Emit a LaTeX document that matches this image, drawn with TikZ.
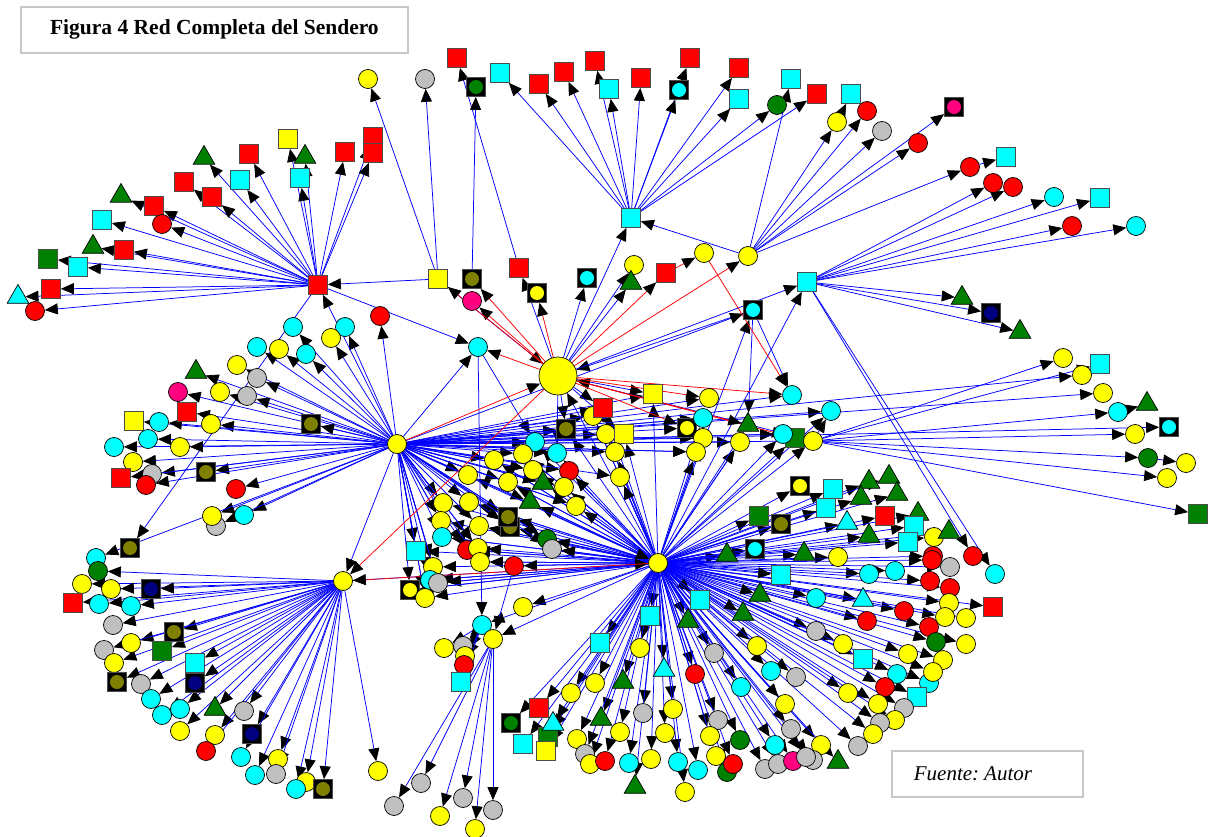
\documentclass[tikz,border=0pt]{standalone}
\usepackage{fontspec}
\setmainfont{Liberation Serif}
\usetikzlibrary{arrows.meta,shapes.geometric}

\definecolor{silver}{HTML}{C0C0C0}
\definecolor{dgreen}{HTML}{008000}
\definecolor{olivec}{HTML}{808000}
\definecolor{navyc}{HTML}{000080}
\definecolor{rosa}{HTML}{FF0080}
\definecolor{cyanc}{HTML}{00FFFF}
\definecolor{yellowc}{HTML}{FFFF00}
\definecolor{redc}{HTML}{FF0000}
\definecolor{bluec}{HTML}{0000FF}
\definecolor{framec}{HTML}{C8C8C8}

\pgfdeclarelayer{background}
\pgfsetlayers{background,main}

\tikzset{
  nd/.style = {draw = black, line width = .7pt, inner sep = 0pt},
  circ/.style = {nd, circle, minimum size = 19pt},
  sqr/.style = {nd, rectangle, draw = black!70, minimum size = 19pt},
  tri/.style = {nd, regular polygon, regular polygon sides = 3, minimum size = 25pt},
  boxd/.style = {sqr, fill = black,
    path picture = {\fill[#1] (path picture bounding box.center) circle (7pt);}},
  yc/.style = {circ, fill = yellowc},
  cc/.style = {circ, fill = cyanc},
  rc/.style = {circ, fill = redc},
  gc/.style = {circ, fill = silver},
  sc/.style = {circ, fill = dgreen},
  pc/.style = {circ, fill = rosa},
  ys/.style = {sqr, fill = yellowc},
  cs/.style = {sqr, fill = cyanc},
  rs/.style = {sqr, fill = redc},
  ss/.style = {sqr, fill = dgreen},
  gt/.style = {tri, fill = dgreen},
  ct/.style = {tri, fill = cyanc},
  bo/.style = {boxd = olivec},
  bn/.style = {boxd = navyc},
  bc/.style = {boxd = cyanc},
  bg/.style = {boxd = dgreen},
  bp/.style = {boxd = rosa},
  by/.style = {boxd = yellowc},
  link/.style = {draw = bluec, line width = .75pt,
    -{Triangle[length = 13pt, width = 11pt, color = black]}},
  rlink/.style = {link, draw = redc},
  frame/.style = {draw = framec, line width = 1.8pt, inner sep = 0pt}
}

% leaves: x/y/style, or x/y/style/source
\def\alist{288/139/ys, 305/157/gt, 249/154/rs, 204/158/gt,
  345/152/rs, 373/137/rs, 373/153/rs, 240/180/cs, 300/178/cs, 184/182/rs,
  212/197/rs, 154/206/rs, 162/224/rc, 121/196/gt, 102/220/cs, 93/247/gt,
  124/250/rs, 48/259/ss, 78/267/cs, 18/297/ct, 51/289/rs, 35/311/rc, 130/548/bo}
\def\blist{293/327/cc, 345/327/cc, 331/338/yc, 257/347/cc,
  279/349/yc, 306/354/cc, 237/365/yc, 196/372/gt, 257/378/gc, 178/392/pc,
  220/392/yc, 247/396/gc, 187/412/rs, 211/424/yc, 134/421/ys, 159/422/cc,
  148/439/cc, 114/447/cc, 180/447/yc, 133/462/yc, 311/424/bo, 206/472/bo,
  152/474/gc, 121/478/rs, 146/485/rc, 236/489/rc, 244/515/cc, 216/526/gc,
  212/516/yc, 96/558/cc}
\def\clist{98/571/sc, 82/584/yc, 111/589/yc, 151/589/bn,
  73/603/rs, 99/604/cc, 131/606/cc, 113/625/gc, 174/632/bo, 131/643/yc,
  104/650/gc, 162/651/ss, 114/663/yc, 195/663/cs, 117/682/bo, 141/684/gc,
  195/683/bn, 151/699/cc, 162/715/cc, 180/709/cc, 215/709/gt, 244/711/gc,
  180/731/yc, 215/735/yc, 206/751/rc, 252/734/bn, 241/757/cc, 278/759/yc,
  255/775/cc, 276/774/gc, 306/782/yc, 296/789/cc, 323/789/bo, 378/771/yc}
\def\dlist{727/555/gt, 755/549/bc, 804/554/gt, 838/557/yc,
  847/523/ct, 759/516/ss, 781/524/bo, 826/508/cs, 833/489/cs, 800/486/by,
  869/482/gt, 889/477/gt, 861/498/gt, 897/494/gt, 885/516/rs, 918/514/gt,
  914/526/cs, 869/536/gt, 908/542/cs, 934/537/yc, 949/532/gt, 933/556/rc,
  869/574/cc, 895/571/cc, 932/560/rc, 950/567/gc, 930/581/rc, 950/588/rc,
  993/607/rs, 816/598/cc, 863/600/ct, 904/611/rc, 949/603/yc, 945/617/yc,
  966/618/yc, 867/621/rc, 929/627/rc, 816/631/gc, 936/642/sc, 966/644/yc,
  843/644/yc, 863/659/cs, 908/654/yc, 943/660/yc, 929/683/cc, 933/672/yc,
  897/674/cc, 885/687/rc, 917/697/cs, 848/693/yc, 878/704/yc, 904/708/gc,
  895/720/yc, 880/723/gc, 873/734/yc, 858/746/gc, 821/745/yc, 813/760/gc,
  838/762/gt, 781/575/cs, 700/600/cs, 760/595/gt, 743/614/gt, 650/616/cs,
  688/621/gt, 600/643/cs, 640/648/yc, 757/646/yc, 714/653/gc, 664/670/ct,
  695/674/rc, 771/671/cc, 796/677/gc, 623/682/gt, 595/683/yc, 741/687/cc,
  571/693/yc, 539/708/rs, 511/723/bg, 548/737/ss, 553/724/ct, 523/744/cs,
  546/751/ys, 643/713/gc, 673/709/yc, 601/719/gt, 785/704/yc, 718/720/gc,
  791/729/gc, 577/739/yc, 585/754/gc, 590/764/yc, 605/761/rc, 620/732/yc,
  665/733/yc, 710/736/yc, 740/740/sc, 629/763/cc, 651/759/yc, 635/787/gt,
  678/762/cc, 698/770/cc, 685/792/yc, 716/756/yc, 727/772/sc, 733/764/rc,
  765/769/gc, 778/764/gc, 775/745/cc, 793/761/pc, 806/757/gc, 523/607/yc}
\def\mlist{535/442/cc/hI, 523/454/yc/hD, 557/453/cc/hub,
  494/460/yc/hD, 468/475/yc/hB, 508/482/yc/hD, 533/470/yc/hB, 569/471/rc/hD,
  543/483/gt/hB, 564/487/yc/hD, 576/506/yc/hB, 530/502/gt/hD, 443/503/yc/hB,
  469/502/yc/hD, 441/521/yc/hB, 479/526/yc/hD, 510/527/bo/hD, 508/517/bo/hB,
  442/537/cc/hD, 547/539/sc/hB, 552/549/gc/hD, 416/551/cs/hB, 467/550/rc/hD,
  478/548/yc/hB, 480/562/yc/hD, 433/567/yc/hB, 430/580/cc/hD, 438/583/gc/hD,
  410/590/by/hD, 425/598/yc/hB, 593/416/yc/hD, 603/408/rs/hub, 566/429/bo/hub,
  606/434/yc/hD, 624/434/ys/hub, 615/452/yc/hB, 620/477/yc/hD, 653/394/ys/hub,
  703/418/cc/hB, 703/438/yc/hD, 696/452/yc/hB, 740/442/yc/hD, 783/434/cc/hB,
  831/411/cc/hG}
\def\elist{500/73/cs, 539/84/rs, 564/72/rs, 595/61/rs,
  609/89/cs, 641/78/rs, 690/58/rs, 679/90/bc, 739/68/rs, 739/99/cs,
  777/105/sc, 817/94/rs}
\def\flist{791/79/cs, 837/122/yc, 867/111/rc, 882/131/gc,
  954/107/bp, 918/143/rc, 970/167/rc}
\def\hlist{962/298/gt, 991/313/bn, 1020/332/gt, 993/183/rc,
  1013/187/rc, 1054/197/cc, 1100/198/cs, 1072/226/rc, 1136/226/cc,
  973/556/rc, 995/574/cc}
\def\glist{1063/358/yc/hG, 1100/364/cs/hG, 1082/375/yc/hB,
  1103/393/yc/hB, 1118/412/cc/hG, 1169/427/bc/hB, 1135/434/yc/hG,
  1148/458/sc/hG, 1167/478/yc/hG, 1198/514/ss/hG}
\def\klist{444/648/yc, 463/646/gc, 465/656/yc, 464/665/rc, 461/682/cs}
\def\llist{421/783/gc, 440/816/yc, 463/798/gc, 475/829/yc, 493/810/gc, 394/806/gc}

\begin{document}
\begin{tikzpicture}[x = 1pt, y = -1pt]
  \useasboundingbox (0,0) rectangle (1210,837);

  % title and source boxes
  \node[frame, anchor = north west, minimum width = 387pt, minimum height = 46pt]
    (title) at (20,6) {\fontsize{21.5}{25}\selectfont\bfseries Figura 4 Red Completa del Sendero};
  \node[frame, anchor = north west, minimum height = 46pt, text width = 147pt,
    inner xsep = 22pt, align = left]
    (fuente) at (891,750) {\fontsize{21}{24}\selectfont\itshape Fuente: Autor};

  % named nodes near the centre
  \node[ss] (nW) at (795,438) {};
  \node[cc] (nQ) at (792,395) {};
  \node[gt] (nV) at (748,425) {};
  \node[yc] (nZ) at (709,398) {};
  \node[by] (nX) at (687,428) {};
  \node[bo] (nO) at (472,279) {};
  \node[pc] (nP) at (472,301) {};
  \node[rs] (nR) at (519,268) {};
  \node[by] (nY) at (537,293) {};
  \node[bc] (nC) at (587,278) {};
  \node[yc] (nU) at (634,265) {};
  \node[gt] (nG) at (631,283) {};
  \node[rs] (nS) at (666,273) {};
  \node[yc] (nT) at (704,253) {};
  \node[bc] (nB) at (753,310) {};
  \node[rc] (nK) at (380,316) {};
  \node[rc] (nM) at (514,566) {};
  \node[yc] (t1) at (368,79) {};
  \node[gc] (t2) at (425,79) {};
  \node[rs] (t3) at (457,58) {};
  \node[bg] (t4) at (476,87) {};

  % hubs
  \node[rs] (hA) at (318,285) {};
  \node[yc] (hB) at (397,444) {};
  \node[yc] (hC) at (343,581) {};
  \node[yc] (hD) at (658,563) {};
  \node[cs] (hE) at (631,218) {};
  \node[yc] (hF) at (748,256) {};
  \node[yc] (hG) at (813,441) {};
  \node[cs] (hH) at (807,282) {};
  \node[cc] (hI) at (478,347) {};
  \node[ys] (hJ) at (438,279) {};
  \node[cc] (hK) at (482,625) {};
  \node[yc] (hL) at (493,639) {};
  \node[yc, minimum size = 38pt] (hub) at (558,376) {};

  % draws the leaves
  \foreach \x/\y/\s [count = \i] in \alist \node[\s] (a\i) at (\x,\y) {};
  \foreach \x/\y/\s [count = \i] in \blist \node[\s] (b\i) at (\x,\y) {};
  \foreach \x/\y/\s [count = \i] in \clist \node[\s] (c\i) at (\x,\y) {};
  \foreach \x/\y/\s [count = \i] in \dlist \node[\s] (d\i) at (\x,\y) {};
  \foreach \x/\y/\s/\f [count = \i] in \mlist \node[\s] (m\i) at (\x,\y) {};
  \foreach \x/\y/\s [count = \i] in \elist \node[\s] (e\i) at (\x,\y) {};
  \foreach \x/\y/\s [count = \i] in \flist \node[\s] (f\i) at (\x,\y) {};
  \foreach \x/\y/\s [count = \i] in \hlist \node[\s] (h\i) at (\x,\y) {};
  \foreach \x/\y/\s/\f [count = \i] in \glist \node[\s] (g\i) at (\x,\y) {};
  \foreach \x/\y/\s [count = \i] in \klist \node[\s] (k\i) at (\x,\y) {};
  \foreach \x/\y/\s [count = \i] in \llist \node[\s] (l\i) at (\x,\y) {};
  \node[cs] (f8) at (851,94) {};
  \node[cs] (f9) at (1006,157) {};
  \node[gt] (g11) at (1147,404) {};
  \node[yc] (g12) at (1186,463) {};

  % draws the links
  \begin{pgfonlayer}{background}
    \fill[white] (0,0) rectangle (1210,837);
    \foreach \x/\y/\s [count = \i] in \alist \draw[link] (hA) -- (a\i);
    \foreach \x/\y/\s [count = \i] in \blist \draw[link] (hB) -- (b\i);
    \foreach \x/\y/\s [count = \i] in \clist \draw[link] (hC) -- (c\i);
    \foreach \x/\y/\s [count = \i] in \dlist \draw[link] (hD) -- (d\i);
    \foreach \x/\y/\s/\f [count = \i] in \mlist {
      \draw[link] (\f) -- (m\i);
      \draw[link] (hB) -- (m\i);
      \draw[link] (hD) -- (m\i);
    }
    \foreach \x/\y/\s [count = \i] in \elist \draw[link] (hE) -- (e\i);
    \foreach \x/\y/\s [count = \i] in \flist \draw[link] (hF) -- (f\i);
    \foreach \x/\y/\s [count = \i] in \hlist \draw[link] (hH) -- (h\i);
    \foreach \x/\y/\s/\f [count = \i] in \glist \draw[link] (\f) -- (g\i);
    \foreach \x/\y/\s [count = \i] in \klist \draw[link] (hK) -- (k\i);
    \foreach \x/\y/\s [count = \i] in \llist \draw[link] (hL) -- (l\i);

    \foreach \u/\v in {hJ/hA, hB/hA, hB/nK, hJ/t1, hJ/t2, nR/t3, nO/t4, hJ/hub,
        hD/hub, nB/hub, hub/hE, hF/hE, hub/nC, hub/nU, hub/nG, hub/hH, hub/nR,
        hB/nB, nB/nV, nB/nQ, hB/hI, hI/hK, hD/hK, hD/hL, hD/nM, nM/hL, hB/hD,
        hB/hC, hD/hG, hD/nB, f2/f8, f7/f9, g5/g11, g8/g12, hA/hI, hG/hub,
        hB/hG, hC/hD, hD/hH, hB/nX, hB/nZ, hD/nV, hD/nW, hB/nQ}
      \draw[link] (\u) -- (\v);
    \foreach \u/\v in {hub/nP, hub/nO, hub/nY, hub/hJ, hub/hI, hub/nS, hub/hF,
        nS/nT, nT/nQ, hub/nQ, hub/nX, hub/nZ, hub/nW, hub/nV, hB/hub, hub/hC,
        hD/hC}
      \draw[rlink] (\u) -- (\v);
  \end{pgfonlayer}
\end{tikzpicture}
\end{document}
